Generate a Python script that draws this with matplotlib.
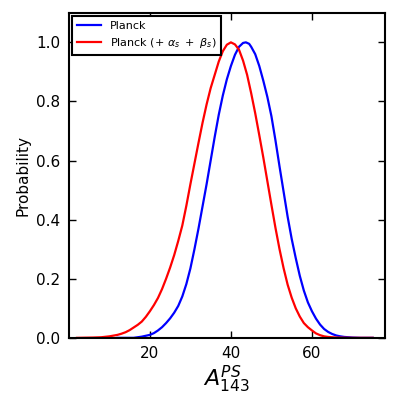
import matplotlib
matplotlib.use("Agg")
import matplotlib.pyplot as plt

planck_x = [12, 16, 17, 18, 19, 20, 21, 22, 23, 24, 25, 26, 27, 28, 29, 30, 31, 32, 33,
            34, 35, 36, 37, 38, 39, 40, 41, 42, 43, 43.7, 44.5, 45, 46, 47, 48, 49, 50,
            51, 52, 53, 54, 55, 56, 57, 58, 59, 60, 61, 62, 63, 64, 65, 66, 67, 68,
            70, 72, 75]
planck_y = [0.0, 0.0, 0.002, 0.004, 0.007, 0.010, 0.016, 0.025, 0.036, 0.050, 0.066,
            0.085, 0.108, 0.140, 0.182, 0.235, 0.300, 0.370, 0.445, 0.520, 0.600, 0.680,
            0.755, 0.820, 0.875, 0.920, 0.958, 0.985, 0.998, 1.0, 0.995, 0.985, 0.960,
            0.920, 0.870, 0.815, 0.750, 0.668, 0.580, 0.495, 0.410, 0.335, 0.270, 0.210,
            0.160, 0.120, 0.090, 0.065, 0.045, 0.030, 0.020, 0.013, 0.008, 0.005, 0.003,
            0.001, 0.0, 0.0]

ext_x = [2, 6, 8, 10, 12, 13, 14, 15, 16, 17, 18, 19, 20, 21, 22, 23, 24, 25, 26, 27,
         28, 29, 30, 31, 32, 33, 34, 35, 36, 37, 38, 39, 40, 41, 42, 43, 44, 45, 46,
         47, 48, 49, 50, 51, 52, 53, 54, 55, 56, 57, 58, 59, 60, 61, 62, 63, 64, 66,
         70, 75]
ext_y = [0.0, 0.001, 0.002, 0.005, 0.010, 0.014, 0.019, 0.026, 0.035, 0.044, 0.055,
         0.071, 0.090, 0.111, 0.135, 0.165, 0.200, 0.238, 0.280, 0.328, 0.380, 0.447,
         0.520, 0.590, 0.660, 0.728, 0.790, 0.845, 0.890, 0.935, 0.970, 0.992, 1.0,
         0.993, 0.975, 0.938, 0.890, 0.828, 0.760, 0.686, 0.610, 0.530, 0.450, 0.372,
         0.300, 0.236, 0.180, 0.136, 0.100, 0.072, 0.050, 0.036, 0.025, 0.015, 0.009,
         0.005, 0.003, 0.001, 0.0, 0.0]

labels = ["Planck", r"Planck $(+\ \alpha_s\ +\ \beta_s)$"]
xticks = [20, 40, 60]
yticks = [0.0, 0.2, 0.4, 0.6, 0.8, 1.0]

fig = plt.figure(figsize=(3.98, 4.13), dpi=100)
ax = fig.add_axes([0.173, 0.182, 0.794, 0.787])
ax.plot(planck_x, planck_y, color="blue", lw=1.6, label=labels[0])
ax.plot(ext_x, ext_y, color="red", lw=1.6, label=labels[1])
ax.set_xlim(0, 78)
ax.set_ylim(0, 1.1)
ax.set_xticks(xticks)
ax.set_yticks(yticks)
ax.set_yticklabels([f"{v:.1f}" for v in yticks])
ax.tick_params(direction="in", length=5, width=1, top=True, right=True, labelsize=11, pad=6)
for s in ax.spines.values():
    s.set_linewidth(1.5)
ax.set_xlabel(r"$A_{143}^{PS}$", fontsize=16, labelpad=2)
ax.set_ylabel("Probability", fontsize=11)
leg = ax.legend(loc="upper left", fontsize=8, fancybox=False, framealpha=1,
                borderaxespad=0.3, handlelength=2.2)
leg.get_frame().set_edgecolor("black")
leg.get_frame().set_linewidth(1.5)
fig.savefig("out.png", dpi=100)
